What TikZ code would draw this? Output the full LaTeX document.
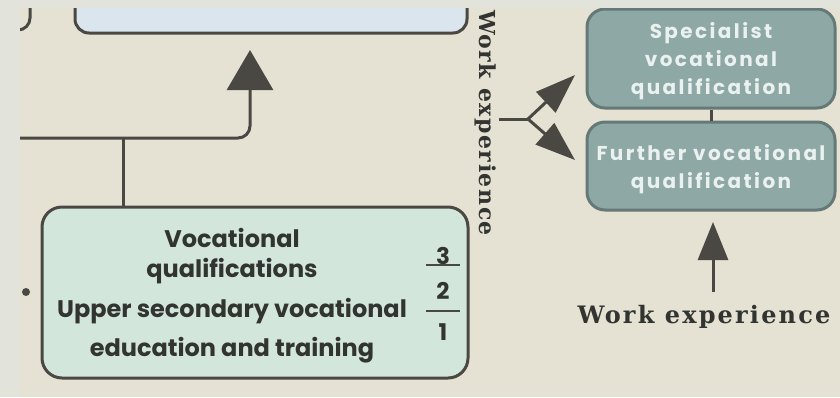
\documentclass[tikz,border=0pt]{standalone}
\usepackage{fontspec}
\newfontfamily\geofont{Poppins Bold}
\newfontfamily\slabfont{DejaVu Serif}
\usetikzlibrary{arrows.meta,positioning}

\definecolor{paper}{HTML}{E5E2D4}
\definecolor{frame}{HTML}{E2E3DA}
\definecolor{ink}{HTML}{4A4843}
\definecolor{darktext}{HTML}{313430}
\definecolor{skyfill}{HTML}{DAE5EE}
\definecolor{mintfill}{HTML}{D3E6DC}
\definecolor{tealfill}{HTML}{8DA8A5}
\definecolor{tealline}{HTML}{657A78}
\definecolor{tealtext}{HTML}{EAF1EF}

\begin{document}
\begin{tikzpicture}[x=1pt,y=-1pt,
    conn/.style={draw=ink,line width=3pt},
    box/.style={rectangle,rounded corners=18pt,draw=ink,line width=3pt,inner sep=0pt},
    qualbox/.style={box,fill=tealfill,draw=tealline,text=tealtext,align=center,
        minimum width=248pt,text depth=0pt,
        font=\geofont\fontsize{20}{28}\selectfont\addfontfeature{LetterSpace=12}},
    bodytext/.style={text=darktext,align=center,
        font=\geofont\fontsize{24}{30}\selectfont},
    leveltext/.style={bodytext,font=\geofont\fontsize{24}{39}\selectfont},
    levelnum/.style={text=darktext,inner sep=0pt,font=\geofont\fontsize{23}{24}\selectfont},
    serifnote/.style={text=darktext,
        font=\slabfont\bfseries\fontsize{24}{26}\selectfont\addfontfeature{LetterSpace=9}},
    sidenote/.style={serifnote,
        font=\slabfont\bfseries\fontsize{22}{24}\selectfont\addfontfeature{LetterSpace=7}},
    bigtip/.style={-{Triangle[length=40pt,width=46pt]}},
    tip/.style={-{Triangle[length=40pt,width=28pt]}}]

  % Paper with its light frame
  \useasboundingbox (0,0) rectangle (840,397);
  \fill[frame] (0,0) rectangle (840,397);
  \fill[paper] (20,8) rectangle (840,397);

  \begin{scope}
  \clip (20,8) rectangle (840,397);

  % Boxes
  \node[box,fill=paper,minimum width=120pt,minimum height=100pt,rounded corners=12pt] (prevbox) at (-30,-20) {};
  \node[box,fill=skyfill,minimum width=392pt,minimum height=113pt,rounded corners=14pt] (upperbox) at (271,-23.5) {};
  \node[box,fill=mintfill,minimum width=426pt,minimum height=171pt,rounded corners=20pt] (vqbox) at (255,292.5) {};
  \node[qualbox,minimum height=99pt] (specbox) at (711,58.5) {Specialist\\vocational\\qualification};
  \node[qualbox,minimum height=88pt] (furtherbox) [below=11pt of specbox] {Further vocational\\qualification};

  % Texts of the vocational box
  \node[bodytext] (vqtitle) at (232,256) {Vocational\\qualifications};
  \node[leveltext] (vqlevel) at (232,331) {Upper secondary vocational\\education and training};
  \node[levelnum] (lvthree) at (443,256) {3};
  \node[levelnum] (lvtwo) at (443,291) {2};
  \node[levelnum] (lvone) at (443,332) {1};
  \draw[ink,line width=2pt] (426,265) -- (460,265);
  \draw[ink,line width=2pt] (426,311) -- (460,311);

  % Work experience labels
  \node[sidenote,rotate=-90,anchor=base] (sidework) at (479,123) {Work experience};
  \node[serifnote,anchor=base] (basework) at (704,323) {Work experience};

  % Left stub
  \node[circle,fill=ink,inner sep=0pt,minimum size=8pt] (stub) at (26,292) {};

  % Up into the upper box
  \coordinate (leftin) at (20,138);
  \coordinate (tjoin) at (123,138);
  \coordinate (uptip) at (250,50);
  \draw[conn,rounded corners=12pt,bigtip] (leftin) -| (uptip);
  \draw[conn] (vqbox.north -| tjoin) -- (tjoin);

  % Work experience fork
  \coordinate (fork) at (528,119);
  \coordinate (tipspec) at (575,75);
  \coordinate (tipfurther) at (575,160);
  \draw[conn] (sidework.north |- fork) -- (fork);
  \draw[conn,tip] (fork) -- (tipspec);
  \draw[conn,tip] (fork) -- (tipfurther);

  % Further -> specialist
  \path (furtherbox) edge[conn] (specbox);

  % Work experience up into further qualification
  \coordinate (weup) at (713,292);
  \draw[conn,-{Triangle[length=38pt,width=30pt]},shorten >=10.5pt] (weup) -- (furtherbox.south -| weup);

  \end{scope}
\end{tikzpicture}
\end{document}
